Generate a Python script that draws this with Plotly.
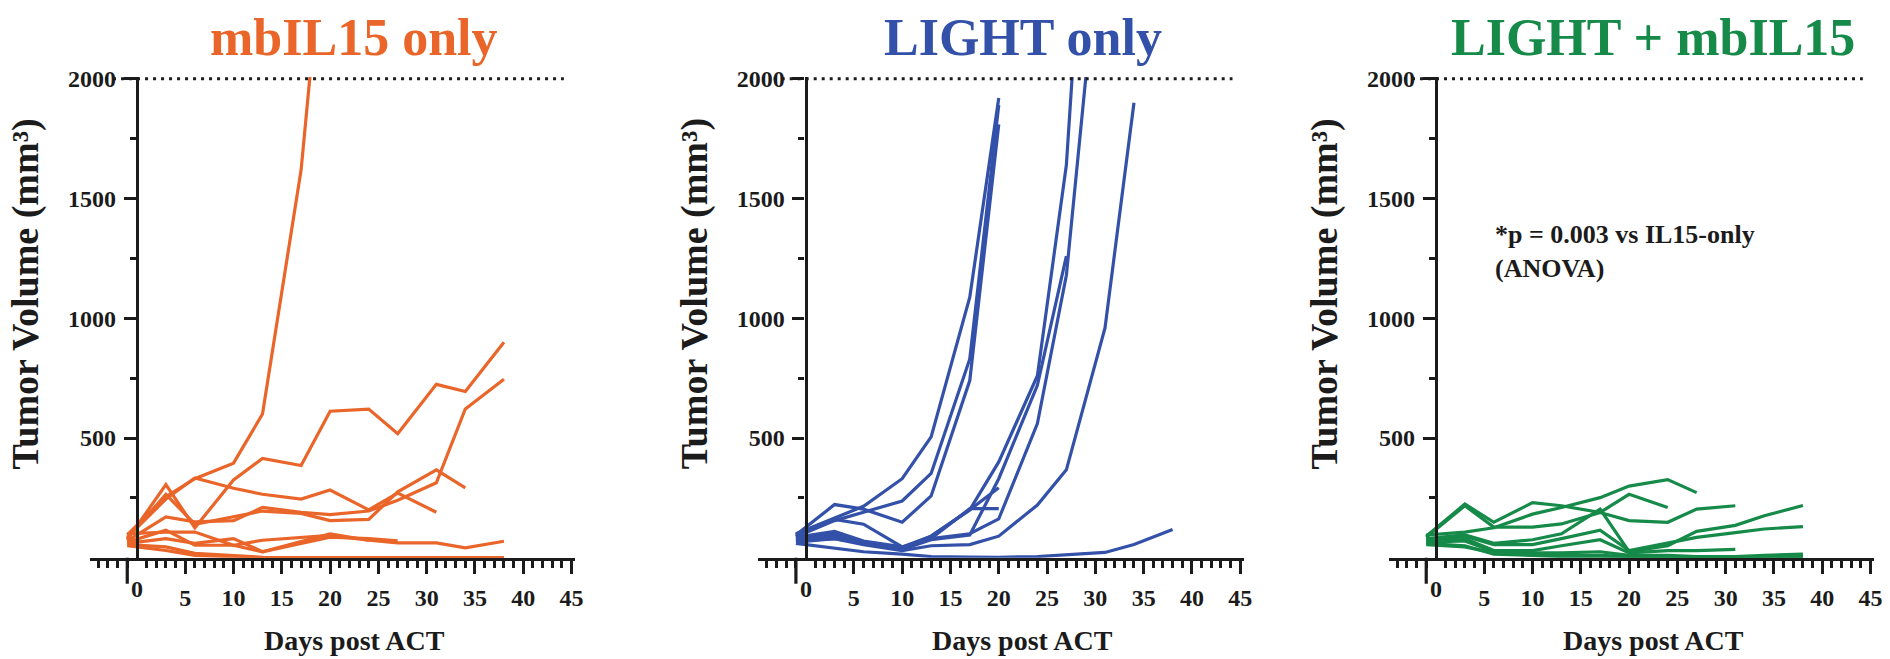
import plotly.graph_objects as go

# ---------------- data ----------------
days = [-1, 3, 6, 10, 13, 17, 20, 24, 27, 31, 34, 38]

mbil15_only = [
    [95, 255, 330, 395, 600, 1620, 2900],
    [85, 245, 333, 290, 265, 245, 283, 200, 270, 190],
    [75, 305, 125, 325, 415, 385, 612, 621, 518, 724, 694, 900],
    [70, 170, 150, 155, 210, 190, 180, 195, 240, 313, 621, 745],
    [80, 265, 140, 170, 195, 185, 155, 160, 275, 367, 292],
    [65, 115, 52, 52, 25, 66, 100, 73, 62, 62, 41, 69],
    [60, 80, 60, 80, 25, 60, 86, 80, 70],
    [100, 107, 107, 52, 73, 86, 93, 73],
    [55, 45, 18, 8, 2, 0, 0, 0, 0, 0, 0, 0],
    [50, 30, 10, 5, 0, 0, 0, 0, 0, 0, 0, 0],
]

light_only = [
    [100, 165, 215, 330, 505, 1088, 1920],
    [95, 222, 203, 148, 258, 740, 1810],
    [88, 155, 190, 237, 352, 830, 1890],
    [90, 160, 140, 45, 90, 200, 400, 760, 1640, 4100],
    [80, 100, 65, 35, 80, 100, 162, 560, 1180, 2820],
    [70, 80, 60, 35, 75, 95, 330, 720, 1260],
    [65, 80, 55, 30, 50, 55, 90, 220, 367, 960, 1900],
    [75, 90, 60, 40, 90, 200, 292],
    [85, 110, 70, 45, 80, 205, 205],
    [60, 40, 25, 15, 5, 3, 2, 5, 12, 22, 55, 118],
]

light_mbil15 = [
    [90, 224, 148, 230, 217, 189, 155, 148, 203, 217],
    [85, 217, 128, 128, 141, 189, 265, 210],
    [95, 107, 125, 182, 210, 251, 299, 326, 272],
    [80, 95, 60, 75, 100, 203, 25, 50, 110, 135, 175, 218],
    [75, 90, 55, 55, 80, 115, 30, 60, 85, 105, 120, 130],
    [70, 80, 30, 30, 50, 75, 20, 30, 30, 35],
    [65, 70, 25, 20, 20, 25, 10, 10, 5, 5, 10, 15],
    [60, 50, 15, 10, 5, 5, 0, 0, 0, 0, 0, 0],
    [55, 45, 20, 15, 10, 10, 5, 5, 5, 5, 5, 5],
]

titles = ["mbIL15 only", "LIGHT only", "LIGHT + mbIL15"]
colors = ["#EA6529", "#3351A8", "#168A48"]
groups = [mbil15_only, light_only, light_mbil15]

x_major = [5, 10, 15, 20, 25, 30, 35, 40, 45]
x_minor = [-4, -3, -2, -1, 1, 2, 3, 4, 6, 7, 8, 9, 11, 12, 13, 14, 16, 17, 18, 19,
           21, 22, 23, 24, 26, 27, 28, 29, 31, 32, 33, 34, 36, 37, 38, 39, 41, 42, 43, 44]
y_major = [500, 1000, 1500, 2000]
y_minor = [250, 750, 1250, 1750]
threshold = 2000
p_text = "*p = 0.003 vs IL15-only<br>(ANOVA)"

# ---------------- layout geometry ----------------
W, H = 1890, 659
FONT = "Liberation Serif, Times New Roman, serif"
INK = "#1b1b1b"
PPD = 9.7                    # px per day
XMIN, XMAX = -4.9, 45.4
YMAX = 2008
Y0PX = 556                   # pixel row of value 0
PPV = 0.2435                 # px per mm3
x0px = [137.5, 809, 1442]    # pixel column of day 0 per panel

ytop_px = Y0PX - YMAX * PPV
ydom = [(H - Y0PX) / H, (H - ytop_px) / H]

fig = go.Figure()
annotations = []
shapes = []

for i, (grp, col, ttl) in enumerate(zip(groups, colors, titles)):
    sfx = "" if i == 0 else str(i + 1)
    xa, ya = "x" + sfx, "y" + sfx
    for vals in grp:
        fig.add_trace(go.Scatter(
            x=days[:len(vals)], y=vals, mode="lines",
            line=dict(color=col, width=3.2),
            xaxis=xa, yaxis=ya, showlegend=False, hoverinfo="skip"))

    x0 = x0px[i]
    xdom = [(x0 + XMIN * PPD) / W, (x0 + XMAX * PPD) / W]
    tickfont = dict(family=FONT, size=24, color=INK, weight="bold")
    fig.layout["xaxis" + sfx] = dict(
        domain=xdom, range=[XMIN, XMAX], anchor=ya,
        showline=True, linewidth=3.2, linecolor=INK,
        ticks="outside", tickvals=x_major, ticktext=[str(v) for v in x_major],
        ticklen=13, tickwidth=3.2, tickcolor=INK, tickfont=tickfont,
        ticklabelstandoff=3,
        minor=dict(tickmode="array", tickvals=x_minor, ticks="outside",
                   ticklen=7, tickwidth=2.8, tickcolor=INK),
        showgrid=False, zeroline=False, fixedrange=True)
    fig.layout["yaxis" + sfx] = dict(
        domain=ydom, range=[0, YMAX], anchor="free", position=x0 / W,
        showline=True, linewidth=3.2, linecolor=INK,
        ticks="outside", tickvals=y_major, ticktext=[str(v) for v in y_major],
        ticklen=12, tickwidth=3.2, tickcolor=INK, tickfont=tickfont,
        ticklabelstandoff=3,
        minor=dict(tickmode="array", tickvals=y_minor, ticks="outside",
                   ticklen=6, tickwidth=2.8, tickcolor=INK),
        showgrid=False, zeroline=False, fixedrange=True)

    # dotted threshold line
    shapes.append(dict(type="line", xref=xa, yref=ya, x0=-3.3, x1=44.2,
                       y0=threshold, y1=threshold,
                       line=dict(color=INK, width=3, dash="3px,5px")))
    # long tick at day -1
    shapes.append(dict(type="line", xref=xa + " domain", yref=ya + " domain",
                       x0=(-1 - XMIN) / (XMAX - XMIN), x1=(-1 - XMIN) / (XMAX - XMIN),
                       ysizemode="pixel", yanchor=0, y0=0, y1=-26,
                       line=dict(color=INK, width=3.2)))
    # "0" tick label
    annotations.append(dict(x=0, xref=xa, y=(H - 588) / H, yref="paper",
                            text="0", showarrow=False, xanchor="center", yanchor="middle",
                            font=tickfont))
    # panel title
    annotations.append(dict(x=(x0 + 22.5 * PPD) / W, xref="paper", y=(H - 27) / H, yref="paper",
                            text=ttl, showarrow=False, xanchor="center", yanchor="middle",
                            font=dict(family=FONT, size=52, color=col, weight="bold")))
    # x title
    annotations.append(dict(x=(x0 + 22.5 * PPD) / W, xref="paper", y=(H - 640) / H, yref="paper",
                            text="Days post ACT", showarrow=False, xanchor="center", yanchor="middle",
                            font=dict(family=FONT, size=28, color=INK, weight="bold")))
    # y title
    annotations.append(dict(x=(x0 - 112) / W, xref="paper", y=(H - 288) / H, yref="paper",
                            text="Tumor Volume (mm³)", textangle=-90,
                            showarrow=False, xanchor="center", yanchor="middle",
                            font=dict(family=FONT, size=38, color=INK, weight="bold")))

annotations.append(dict(x=(x0px[2] + 57) / W, xref="paper", y=(H - 245) / H, yref="paper",
                        text=p_text, showarrow=False, xanchor="left", yanchor="middle",
                        align="left",
                        font=dict(family=FONT, size=26, color=INK, weight="bold")))

fig.update_layout(
    width=W, height=H, margin=dict(l=0, r=0, t=0, b=0),
    paper_bgcolor="white", plot_bgcolor="white",
    annotations=annotations, shapes=shapes, showlegend=False)

fig.write_html("out.html", config={"displayModeBar": False})
